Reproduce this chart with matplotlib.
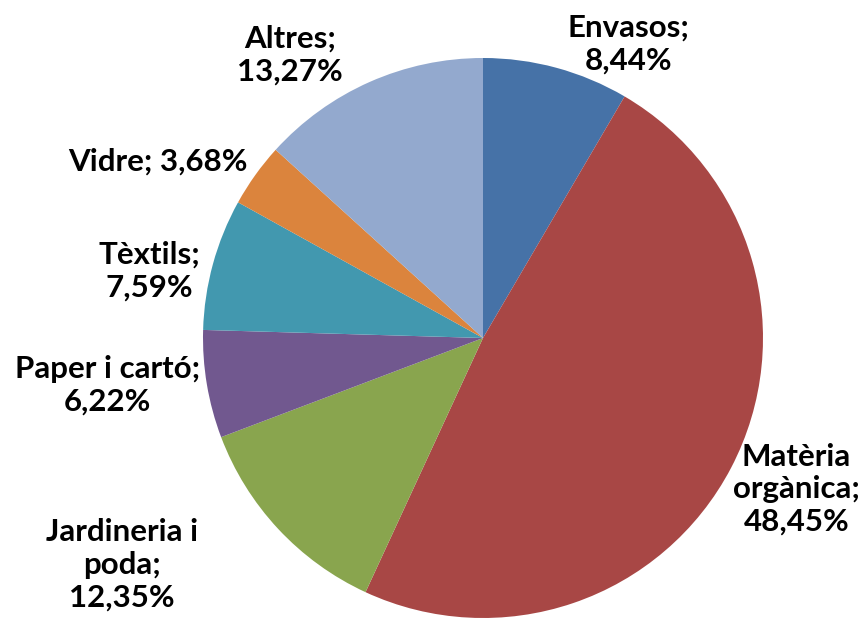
import matplotlib
matplotlib.use("Agg")
import matplotlib.pyplot as plt

# Waste composition (percent)
categories = ["Envasos", "Matèria\norgànica", "Jardineria i\npoda", "Paper i cartó",
              "Tèxtils", "Vidre", "Altres"]
values = [8.44, 48.45, 12.35, 6.22, 7.59, 3.68, 13.27]
value_labels = ["8,44%", "48,45%", "12,35%", "6,22%", "7,59%", "3,68%", "13,27%"]
colors = ["#4672A7", "#A84745", "#89A54E", "#71588F", "#4298AF", "#DB843D", "#93A9CE"]

# label centres (pie radius = 1, centre at origin) and how the value joins the name
label_pos = [(0.52, 1.05), (1.12, -0.54), (-1.29, -0.81), (-1.34, -0.17),
             (-1.19, 0.24), (-1.16, 0.63), (-0.69, 1.01)]
label_sep = ["\n", "\n", "\n", "\n", "\n", " ", "\n"]

plt.rcParams['font.family'] = ['Lato', 'DejaVu Sans']

fig = plt.figure(figsize=(8.67, 6.23), dpi=100)
ax = fig.add_axes([0, 0, 1, 1])

ax.pie(values, colors=colors, startangle=90, counterclock=False, radius=1.0,
       wedgeprops=dict(linewidth=0))

for name, val, sep, (x, y) in zip(categories, value_labels, label_sep, label_pos):
    ax.text(x, y, name + ";" + sep + val, ha="center", va="center",
            fontsize=22.5, fontweight="bold", color="black", linespacing=1.2)

# pie centre at (483, 338) px with radius 280 px
ax.set_xlim(-483 / 280, (867 - 483) / 280)
ax.set_ylim(-(623 - 338) / 280, 338 / 280)
ax.set_aspect("auto")
ax.axis("off")

fig.savefig("out.png", dpi=100)
